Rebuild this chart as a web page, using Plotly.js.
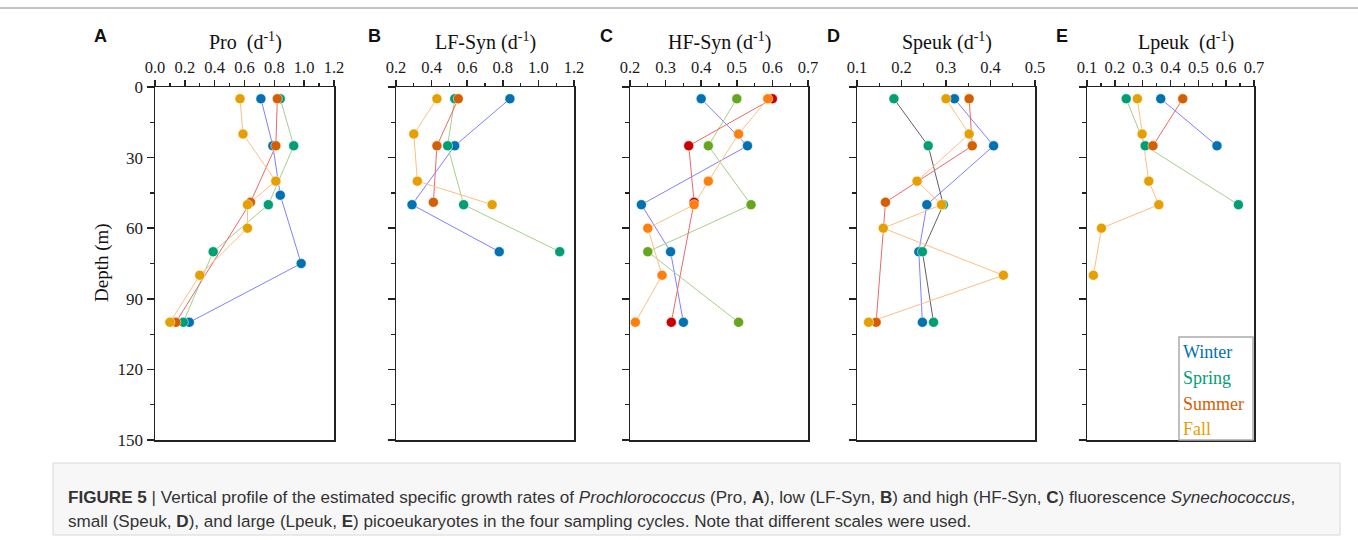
<!DOCTYPE html>
<html>
<head>
<meta charset="utf-8">
<script src="https://cdn.plot.ly/plotly-3.0.1.min.js"></script>
<style>html,body{margin:0;padding:0;background:#fff;}#chart{width:1358px;height:540px;}</style>
</head>
<body>
<div id="chart"></div>
<script>
// ---------------- DATA ----------------
const seasons = ['Winter', 'Spring', 'Summer', 'Fall'];
const panelTitles = ['Pro  (d<sup>-1</sup>)', 'LF-Syn (d<sup>-1</sup>)', 'HF-Syn (d<sup>-1</sup>)', 'Speuk (d<sup>-1</sup>)', 'Lpeuk  (d<sup>-1</sup>)'];
const panelLetters = ['A', 'B', 'C', 'D', 'E'];
const depthTicks = [0, 30, 60, 90, 120, 150];

// A: Pro
const proWinterDepth = [5, 25, 46, 75, 100];
const proWinterRate  = [0.71, 0.79, 0.84, 0.98, 0.23];
const proSpringDepth = [5, 25, 50, 70, 100];
const proSpringRate  = [0.84, 0.93, 0.76, 0.39, 0.19];
const proSummerDepth = [5, 25, 49, 100];
const proSummerRate  = [0.82, 0.81, 0.64, 0.14];
const proFallDepth   = [5, 20, 40, 50, 60, 80, 100];
const proFallRate    = [0.57, 0.59, 0.81, 0.62, 0.62, 0.30, 0.10];

// B: LF-Syn
const lfWinterDepth = [5, 25, 50, 70];
const lfWinterRate  = [0.84, 0.53, 0.29, 0.78];
const lfSpringDepth = [5, 25, 50, 70];
const lfSpringRate  = [0.53, 0.49, 0.58, 1.12];
const lfSummerDepth = [5, 25, 49];
const lfSummerRate  = [0.55, 0.43, 0.41];
const lfFallDepth   = [5, 20, 40, 50];
const lfFallRate    = [0.43, 0.30, 0.32, 0.74];

// C: HF-Syn
const hfWinterDepth = [5, 25, 50, 70, 100];
const hfWinterRate  = [0.40, 0.53, 0.232, 0.314, 0.35];
const hfSpringDepth = [5, 25, 50, 70, 100];
const hfSpringRate  = [0.50, 0.42, 0.54, 0.25, 0.505];
const hfSummerDepth = [5, 25, 49, 100];
const hfSummerRate  = [0.60, 0.365, 0.38, 0.316];
const hfFallDepth   = [5, 20, 40, 50, 60, 80, 100];
const hfFallRate    = [0.587, 0.505, 0.42, 0.38, 0.25, 0.29, 0.215];

// D: Speuk
const spWinterDepth = [5, 25, 50, 70, 100];
const spWinterRate  = [0.319, 0.407, 0.257, 0.239, 0.247];
const spSpringDepth = [5, 25, 50, 70, 100];
const spSpringRate  = [0.183, 0.26, 0.294, 0.247, 0.272];
const spSummerDepth = [5, 25, 49, 100];
const spSummerRate  = [0.352, 0.359, 0.164, 0.143];
const spFallDepth   = [5, 20, 40, 50, 60, 80, 100];
const spFallRate    = [0.30, 0.352, 0.235, 0.29, 0.159, 0.429, 0.126];

// E: Lpeuk
const lpWinterDepth = [5, 25];
const lpWinterRate  = [0.365, 0.567];
const lpSpringDepth = [5, 25, 50];
const lpSpringRate  = [0.241, 0.309, 0.644];
const lpSummerDepth = [5, 25];
const lpSummerRate  = [0.444, 0.337];
const lpFallDepth   = [5, 20, 40, 50, 60, 80];
const lpFallRate    = [0.281, 0.298, 0.322, 0.358, 0.152, 0.123];

const xRanges = [[0, 1.2], [0.2, 1.2], [0.2, 0.7], [0.1, 0.5], [0.1, 0.7]];
const xDticks = [0.2, 0.2, 0.1, 0.1, 0.1];

// ---------------- STYLE ----------------
const W = 1358, H = 540;
const SERIF = '"Liberation Serif", "Times New Roman", serif';
const SANS = '"Liberation Sans", Arial, sans-serif';
const markerStd = ['#0072B2', '#009E73', '#D55E00', '#E69F00'];
const markerC   = ['#0072B2', '#66A61E', '#CC0000', '#FF7F0E'];
const lineStd   = ['#8080FF', '#A6D08A', '#E86A6A', '#FFBE80'];
const lineD     = ['#8080FF', '#606060', '#E86A6A', '#FFBE80'];

const panelPx = [[155, 334], [396, 574], [630, 808], [857, 1035], [1087, 1254]];
const plotTop = 87, plotBot = 440;

const panels = [
  [[proWinterDepth, proWinterRate], [proSpringDepth, proSpringRate], [proSummerDepth, proSummerRate], [proFallDepth, proFallRate]],
  [[lfWinterDepth, lfWinterRate], [lfSpringDepth, lfSpringRate], [lfSummerDepth, lfSummerRate], [lfFallDepth, lfFallRate]],
  [[hfWinterDepth, hfWinterRate], [hfSpringDepth, hfSpringRate], [hfSummerDepth, hfSummerRate], [hfFallDepth, hfFallRate]],
  [[spWinterDepth, spWinterRate], [spSpringDepth, spSpringRate], [spSummerDepth, spSummerRate], [spFallDepth, spFallRate]],
  [[lpWinterDepth, lpWinterRate], [lpSpringDepth, lpSpringRate], [lpSummerDepth, lpSummerRate], [lpFallDepth, lpFallRate]]
];

const traces = [];
const layout = {
  width: W, height: H,
  margin: {l: 0, r: 0, t: 0, b: 0},
  paper_bgcolor: '#fff', plot_bgcolor: '#fff',
  showlegend: false,
  annotations: [], shapes: []
};

panels.forEach((series, p) => {
  const sfx = p === 0 ? '' : String(p + 1);
  const mCols = p === 2 ? markerC : markerStd;
  const lCols = p === 3 ? lineD : lineStd;
  series.forEach((s, k) => {
    traces.push({x: s[1], y: s[0], xaxis: 'x' + sfx, yaxis: 'y' + sfx, type: 'scatter', mode: 'lines',
      line: {color: lCols[k], width: 1}, hoverinfo: 'skip', name: seasons[k]});
  });
  series.forEach((s, k) => {
    traces.push({x: s[1], y: s[0], xaxis: 'x' + sfx, yaxis: 'y' + sfx, type: 'scatter', mode: 'markers',
      marker: {color: mCols[k], size: 10, line: {color: '#fff', width: 0.5}}, name: seasons[k]});
  });

  const xr = xRanges[p];
  layout['xaxis' + sfx] = {
    domain: [panelPx[p][0] / W, panelPx[p][1] / W],
    range: xr, side: 'top', anchor: 'y' + sfx,
    tick0: xr[0], dtick: xDticks[p], tickformat: '.1f',
    ticks: 'outside', ticklen: 6, tickwidth: 1.5, tickcolor: '#222',
    minor: {dtick: xDticks[p] / 2, tick0: xr[0], ticks: 'outside', ticklen: 3, tickwidth: 1.2, tickcolor: '#222', showgrid: false},
    showline: true, mirror: true, linecolor: '#222', linewidth: 1.5,
    showgrid: false, zeroline: false,
    tickfont: {family: SERIF, size: 16.5, color: '#1a1a1a'}
  };
  layout['yaxis' + sfx] = {
    domain: [1 - plotBot / H, 1 - plotTop / H],
    range: [150, 0], anchor: 'x' + sfx,
    tickvals: depthTicks, showticklabels: p === 0,
    ticks: 'outside', ticklen: 7, tickwidth: 1.5, tickcolor: '#222',
    minor: {dtick: 15, tick0: 0, ticks: 'outside', ticklen: 4, tickwidth: 1.2, tickcolor: '#222', showgrid: false},
    showline: true, mirror: true, linecolor: '#222', linewidth: 1.5,
    showgrid: false, zeroline: false,
    tickfont: {family: SERIF, size: 17, color: '#1a1a1a'}
  };
});

const titleCx = [245, 485, 719, 947, 1186];
const letterCx = [100, 374, 606, 833, 1062];
panelTitles.forEach((t, p) => {
  layout.annotations.push({xref: 'paper', yref: 'paper', x: titleCx[p] / W, y: 1 - 41 / H,
    xanchor: 'center', yanchor: 'middle', showarrow: false, text: t,
    font: {family: SERIF, size: 20, color: '#111'}});
  layout.annotations.push({xref: 'paper', yref: 'paper', x: letterCx[p] / W, y: 1 - 36 / H,
    xanchor: 'center', yanchor: 'middle', showarrow: false, text: '<b>' + panelLetters[p] + '</b>',
    font: {family: SANS, size: 18, color: '#111'}});
});

layout.annotations.push({xref: 'paper', yref: 'paper', x: 102 / W, y: 1 - 263 / H,
  xanchor: 'center', yanchor: 'middle', showarrow: false, text: 'Depth (m)', textangle: -90,
  font: {family: SERIF, size: 19, color: '#111'}});

// legend box in panel E
layout.shapes.push({type: 'rect', xref: 'paper', yref: 'paper',
  x0: 1179 / W, x1: 1253 / W, y0: 1 - 440 / H, y1: 1 - 337 / H,
  line: {color: '#aaaaaa', width: 1.5}, fillcolor: '#fff', layer: 'above'});
const legendY = [352, 378, 404, 429];
seasons.forEach((s, k) => {
  layout.annotations.push({xref: 'paper', yref: 'paper', x: 1181 / W, y: 1 - legendY[k] / H,
    xanchor: 'left', yanchor: 'middle', showarrow: false, text: s,
    font: {family: SERIF, size: 18, color: markerStd[k]}});
});

// figure frame & caption box
layout.shapes.push({type: 'line', xref: 'paper', yref: 'paper', x0: 0, x1: 1, y0: 1 - 8 / H, y1: 1 - 8 / H,
  line: {color: '#888', width: 1}});
layout.shapes.push({type: 'rect', xref: 'paper', yref: 'paper', x0: 53 / W, x1: 1340 / W, y0: 1 - 535 / H, y1: 1 - 463 / H,
  line: {color: '#d8d8d8', width: 1}, fillcolor: '#f7f7f7', layer: 'below'});

const cap1 = '<b>FIGURE 5</b> | Vertical profile of the estimated specific growth rates of <i>Prochlorococcus</i> (Pro, <b>A</b>), low (LF-Syn, <b>B</b>) and high (HF-Syn, <b>C</b>) fluorescence <i>Synechococcus</i>,';
const cap2 = 'small (Speuk, <b>D</b>), and large (Lpeuk, <b>E</b>) picoeukaryotes in the four sampling cycles. Note that different scales were used.';
layout.annotations.push({xref: 'paper', yref: 'paper', x: 66 / W, y: 1 - 497 / H, xanchor: 'left', yanchor: 'middle',
  showarrow: false, text: cap1, font: {family: SANS, size: 17.1, color: '#333'}});
layout.annotations.push({xref: 'paper', yref: 'paper', x: 66 / W, y: 1 - 521 / H, xanchor: 'left', yanchor: 'middle',
  showarrow: false, text: cap2, font: {family: SANS, size: 17.1, color: '#333'}});

Plotly.newPlot('chart', traces, layout, {displayModeBar: false, staticPlot: true});
</script>
</body>
</html>
